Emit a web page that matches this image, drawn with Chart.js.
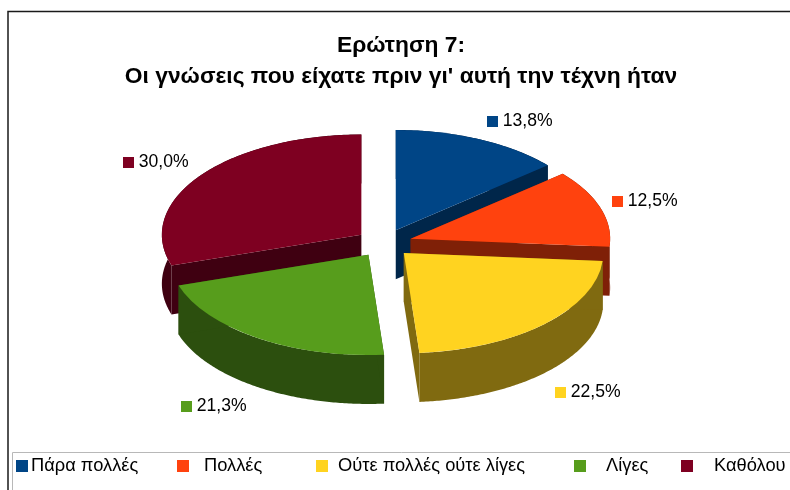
<!DOCTYPE html>
<html>
<head>
<meta charset="utf-8">
<style>html,body{margin:0;padding:0;background:#fff}canvas{display:block}</style>
<script src="https://cdn.jsdelivr.net/npm/chart.js@4"></script>
</head>
<body>
<canvas id="c" width="790" height="490"></canvas>
<script>
const categories = ['Πάρα πολλές', 'Πολλές', 'Ούτε πολλές ούτε λίγες', 'Λίγες', 'Καθόλου'];
const values = [13.8, 12.5, 22.5, 21.3, 30.0];
const titleLines = ['Ερώτηση 7:', "Οι γνώσεις που είχατε πριν γι' αυτή την τέχνη ήταν"];
const topColors = ['#004586', '#ff420e', '#ffd320', '#579d1c', '#7e0021'];
const sideColors = ['#00264a', '#7f2007', '#806a10', '#2c4f0e', '#3f0011'];

const FONT = '"Liberation Sans", Arial, sans-serif';
const pie = { cx: 384, cy: 243, radius: 199.5, squash: 0.5025, explode: 28, depth: 49 };
const drawOrder = [0, 4, 1, 2, 3];
const valueLabelPos = [[487, 116], [612, 196], [555, 387], [181, 401], [123, 157]];
const legendPos = [[16, 31], [177, 204], [316, 338], [574, 606], [681, 714]];

function placePie(ctx, arc) {
  const mid = (arc.startAngle + arc.endAngle) / 2;
  ctx.translate(pie.cx, pie.cy);
  ctx.scale(1, pie.squash);
  ctx.translate(Math.cos(mid) * pie.explode, Math.sin(mid) * pie.explode);
  ctx.translate(-arc.x, -arc.y);
}

function screenPoint(arc, angle, r, d) {
  const mid = (arc.startAngle + arc.endAngle) / 2;
  return [
    pie.cx + Math.cos(mid) * pie.explode + Math.cos(angle) * r,
    pie.cy + d + pie.squash * (Math.sin(mid) * pie.explode + Math.sin(angle) * r)
  ];
}

function fillPoly(ctx, pts) {
  ctx.beginPath();
  pts.forEach((p, i) => i ? ctx.lineTo(p[0], p[1]) : ctx.moveTo(p[0], p[1]));
  ctx.closePath();
  ctx.fill();
}

function drawWalls(ctx, arc) {
  const r = arc.outerRadius, a0 = arc.startAngle, a1 = arc.endAngle;
  const n = Math.ceil((a1 - a0) * 90);
  const top = [], bottom = [];
  for (let k = 0; k <= n; k++) {
    const a = a0 + (a1 - a0) * k / n;
    top.push(screenPoint(arc, a, r, 0));
    bottom.push(screenPoint(arc, a, r, pie.depth));
  }
  fillPoly(ctx, top.concat(bottom.slice().reverse()));
  [a0, a1].forEach(a => fillPoly(ctx, [
    screenPoint(arc, a, 0, 0), screenPoint(arc, a, r, 0),
    screenPoint(arc, a, r, pie.depth), screenPoint(arc, a, 0, pie.depth)
  ]));
}

const tiltedPie = {
  id: 'tiltedPie',
  beforeDraw(chart) {
    const ctx = chart.ctx;
    ctx.save();
    ctx.fillStyle = '#fff';
    ctx.fillRect(0, 0, 790, 490);
    ctx.strokeStyle = '#1a1a1a';
    ctx.lineWidth = 1.5;
    ctx.beginPath();
    ctx.moveTo(790, 11.5);
    ctx.lineTo(8, 11.5);
    ctx.lineTo(8, 490);
    ctx.stroke();
    ctx.strokeStyle = '#b8b8b8';
    ctx.lineWidth = 1;
    ctx.beginPath();
    ctx.moveTo(790, 452.5);
    ctx.lineTo(12.5, 452.5);
    ctx.lineTo(12.5, 490);
    ctx.stroke();
    ctx.restore();
  },
  beforeDatasetsDraw(chart) {
    const ctx = chart.ctx;
    const arcs = chart.getDatasetMeta(0).data;
    drawOrder.forEach(i => {
      const arc = arcs[i];
      ctx.fillStyle = sideColors[i];
      drawWalls(ctx, arc);
      ctx.save();
      placePie(ctx, arc);
      arc.draw(ctx);
      ctx.restore();
    });
    return false;
  },
  afterDraw(chart) {
    const ctx = chart.ctx;
    ctx.save();
    ctx.textBaseline = 'middle';
    ctx.textAlign = 'left';
    ctx.font = '17.6px ' + FONT;
    values.forEach((v, i) => {
      const [x, y] = valueLabelPos[i];
      ctx.fillStyle = topColors[i];
      ctx.fillRect(x, y, 11, 11);
      ctx.fillStyle = '#000';
      ctx.fillText(v.toFixed(1).replace('.', ',') + '%', x + 15.7, y + 5.5);
    });
    ctx.font = '18.3px ' + FONT;
    categories.forEach((name, i) => {
      const [sx, tx] = legendPos[i];
      ctx.fillStyle = topColors[i];
      ctx.fillRect(sx, 460, 12, 12);
      ctx.fillStyle = '#000';
      ctx.fillText(name, tx, 466);
    });
    ctx.restore();
  }
};

new Chart(document.getElementById('c'), {
  type: 'pie',
  data: {
    labels: categories,
    datasets: [{ data: values, backgroundColor: topColors, borderWidth: 0 }]
  },
  options: {
    responsive: false,
    animation: false,
    radius: pie.radius,
    layout: { padding: { left: 12, top: 0, right: 0, bottom: 0 } },
    plugins: {
      legend: { display: false },
      tooltip: { enabled: false },
      title: {
        display: true,
        text: titleLines,
        color: '#000',
        font: { family: FONT, size: 22.8, weight: 'bold', lineHeight: 1.36 },
        padding: { top: 30, bottom: 6 }
      }
    }
  },
  plugins: [tiltedPie]
});
</script>
</body>
</html>
